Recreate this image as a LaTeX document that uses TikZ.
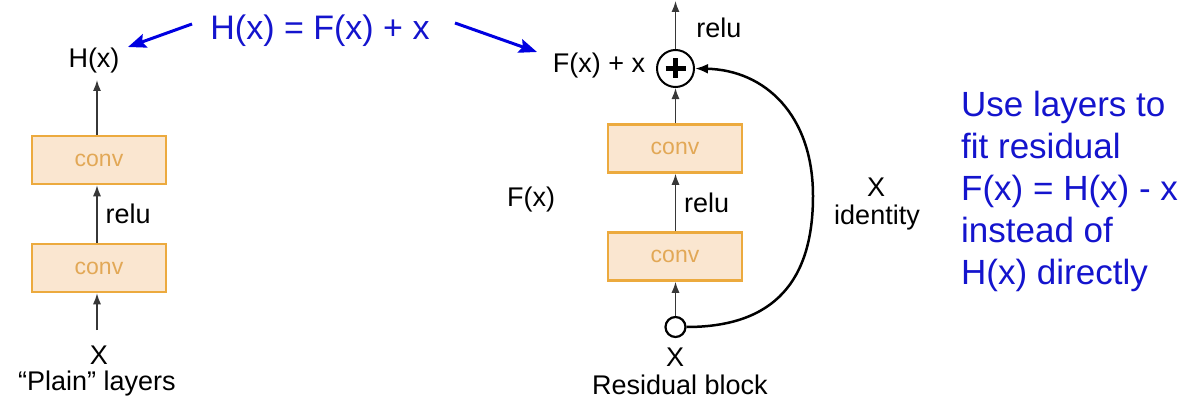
\documentclass[tikz,border=0pt]{standalone}
\usepackage{fontspec}
\setmainfont{Liberation Sans}
\usetikzlibrary{arrows.meta,calc}
\definecolor{titleblue}{RGB}{20,20,205}
\definecolor{arrowblue}{RGB}{0,0,225}
\definecolor{convfill}{RGB}{250,230,208}
\definecolor{convdraw}{RGB}{236,170,62}
\definecolor{convtext}{RGB}{226,168,86}
\definecolor{linegray}{RGB}{55,55,55}
\tikzset{
  lbl/.style={inner sep=0pt, font=\fontsize{27}{32}\selectfont, text=black},
  convbox/.style={draw=convdraw, fill=convfill, line width=2.5pt, minimum width=134pt, minimum height=48pt, inner sep=0pt, text=convtext, font=\fontsize{23}{28}\selectfont},
  flow/.style={draw=linegray, line width=1.3pt, -{Latex[length=11pt,width=8pt]}},
  bluearrow/.style={draw=arrowblue, line width=3pt, -{Stealth[length=18pt,width=14pt,inset=3pt]}},
  identity/.style={draw=black, line width=2.5pt, -{Latex[length=13pt,width=10pt]}},
  bigblue/.style={inner sep=0pt, text=titleblue, font=\fontsize{34}{42}\selectfont}
}
\begin{document}
\begin{tikzpicture}[x=1pt,y=-1pt]
\useasboundingbox (0,0) rectangle (1200,412);

% title
\node[bigblue] (title) at (320,31) {H(x) = F(x) + x};
\node[lbl] (Hx) at (94,61) {H(x)};
\node[lbl] (Fxx) at (599,66) {F(x) + x};
\coordinate (blstart) at (192,24);
\coordinate (bltip) at (128,47);
\coordinate (brstart) at (455,23);
\coordinate (brtip) at (537,52);
\draw[bluearrow] (blstart) -- (bltip);
\draw[bluearrow] (brstart) -- (brtip);

% plain
\node[convbox] (pc1) at (99,160) {conv};
\node[convbox] (pc2) at (99,268) {conv};
\node[lbl] (pX) at (99,355) {X};
\node[lbl] (plain) at (97,384) {“Plain” layers};
\coordinate (pin) at (97,330);
\coordinate (pout) at (97,80);
\draw[flow] (pin) -- (pin |- pc2.south);
\draw[flow] (pin |- pc2.north) -- (pin |- pc1.south) node[midway, right=8pt, lbl] (prelu) {relu};
\draw[flow] (pin |- pc1.north) -- (pout);

% residual
\node[circle, draw=black, line width=2pt, minimum size=37pt, inner sep=0pt] (plus) at (675.5,68.5) {};
\draw[line width=4.5pt] ($(plus.center)+(-10,0)$) -- ($(plus.center)+(10,0)$);
\draw[line width=4.5pt] ($(plus.center)+(0,-10)$) -- ($(plus.center)+(0,10)$);
\node[convbox] (rc1) at (675,148.5) {conv};
\node[convbox] (rc2) at (675,256.5) {conv};
\node[circle, draw=black, line width=2.2pt, fill=white, minimum size=20pt, inner sep=0pt] (xin) at (675.5,327) {};
\node[lbl] (rX) at (675,357) {X};
\node[lbl] (resblock) at (680,385) {Residual block};
\node[lbl] (Fx) at (531,200) {F(x)};
\node[lbl] (idX) at (876,187) {X};
\node[lbl] (idlbl) at (877,218) {identity};
\coordinate (rout) at (675.5,1);
\coordinate (idmid) at (813,196);

\draw[flow] (xin.north) -- (xin.north |- rc2.south);
\draw[flow] (xin.north |- rc2.north) -- (xin.north |- rc1.south) node[midway, right=8pt, lbl] (rrelu) {relu};
\draw[flow] (xin.north |- rc1.north) -- (plus.south);
\draw[flow] (plus.north) -- (rout);
\node[lbl] (toprelu) at (719,28) {relu};
\draw[line width=2.5pt] (xin.east) .. controls (775,327) and (813,280) .. (idmid);
\draw[identity] (idmid) .. controls (813,115) and (765,70) .. (plus.east);

% side text
\node[bigblue, anchor=north west, align=left, font=\fontsize{35}{42}\selectfont] (side) at (961,91) {Use layers to\\fit residual\\F(x) = H(x) - x\\instead of\\H(x) directly};
\end{tikzpicture}
\end{document}
